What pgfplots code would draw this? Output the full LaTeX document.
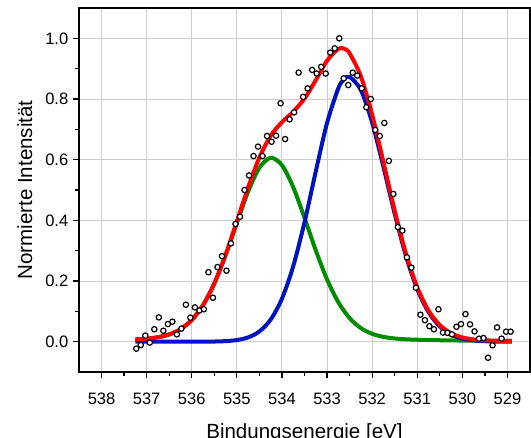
\documentclass[border=0pt]{standalone}
\usepackage{fontspec}
\setmainfont{Liberation Sans}
\usepackage{pgfplots}
\pgfplotsset{compat=1.18}

\definecolor{fitred}{RGB}{255,0,0}
\definecolor{fitgreen}{RGB}{0,140,0}
\definecolor{fitblue}{RGB}{0,20,190}
\definecolor{gridgray}{RGB}{205,205,205}

\begin{document}
\begin{tikzpicture}
\begin{axis}[
  at={(0,0)}, anchor=south west,
  scale only axis, width=338.25pt, height=273pt,
  x dir=reverse,
  xmin=528.5, xmax=538.5, ymin=-0.1, ymax=1.1,
  xtick={529,530,...,538}, minor x tick num=1,
  ytick={0,0.2,...,1.0}, minor y tick num=1,
  xtick pos=bottom, ytick pos=left,
  tick align=outside,
  major tick length=4.5pt, minor tick length=3pt,
  every tick/.style={black, line width=0.9pt},
  axis line style={black, line width=1.2pt},
  grid=major,
  major grid style={gridgray, line width=0.75pt},
  /pgf/number format/assume math mode=true,
  ticklabel style={font=\fontsize{12.4}{14}\selectfont},
  yticklabel style={/pgf/number format/fixed, /pgf/number format/fixed zerofill, /pgf/number format/precision=1},
  xticklabel style={/pgf/number format/1000 sep={}, yshift=-7.5pt},
  label style={font=\fontsize{15.4}{18}\selectfont},
  xlabel={Bindungsenergie [eV]},
  ylabel={Normierte Intensität},
  xlabel style={at={(axis description cs:0.5,-0.1813)}, anchor=base},
  ylabel style={at={(axis description cs:-0.104,0.5)}, anchor=base},
]
% green component
\addplot[fitgreen, line width=3pt, smooth] coordinates {
(537.25,0.0076)(537.0,0.0100)(536.75,0.0147)(536.5,0.0238)(536.25,0.0410)
(536.0,0.0713)(535.75,0.1202)(535.5,0.1915)(535.25,0.2845)(535.0,0.3909)
(534.75,0.4945)(534.5,0.5733)(534.25,0.6060)(534.0,0.5819)(533.75,0.5094)
(533.5,0.4082)(533.25,0.3010)(533.0,0.2051)(532.75,0.1300)(532.5,0.0777)
(532.25,0.0448)(532.0,0.0259)(531.75,0.0158)(531.5,0.0106)(531.25,0.0078)
(531.0,0.0063)(530.75,0.0053)(530.5,0.0047)(530.25,0.0041)(530.0,0.0037)
(529.75,0.0033)(529.5,0.0030)(529.25,0.0027)(529.0,0.0024)(528.9,0.0023)};
% blue component
\addplot[fitblue, line width=3pt, smooth] coordinates {
(537.25,0.0000)(537.0,0.0000)(536.75,0.0000)(536.5,0.0000)(536.25,0.0000)
(536.0,0.0000)(535.75,0.0002)(535.5,0.0005)(535.25,0.0018)(535.0,0.0053)
(534.75,0.0141)(534.5,0.0337)(534.25,0.0728)(534.0,0.1417)(533.75,0.2487)
(533.5,0.3934)(533.25,0.5610)(533.0,0.7211)(532.75,0.8355)(532.625,0.8650)
(532.5,0.8730)(532.25,0.8296)(532.0,0.7225)(531.75,0.5764)(531.5,0.4215)
(531.25,0.2823)(531.0,0.1732)(530.75,0.0974)(530.5,0.0502)(530.25,0.0237)
(530.0,0.0102)(529.75,0.0041)(529.5,0.0015)(529.25,0.0005)(529.0,0.0002)(528.9,0.0001)};
% total fit
\addplot[fitred, line width=3pt, smooth] coordinates {
(537.25,0.0076)(537.0,0.0100)(536.75,0.0147)(536.5,0.0238)(536.25,0.0410)
(536.0,0.0713)(535.75,0.1204)(535.5,0.1920)(535.25,0.2863)(535.0,0.3962)
(534.75,0.5086)(534.5,0.6070)(534.25,0.6788)(534.0,0.7236)(533.75,0.7581)
(533.5,0.8016)(533.25,0.8620)(533.0,0.9262)(532.75,0.9655)(532.625,0.9660)
(532.5,0.9507)(532.25,0.8744)(532.0,0.7484)(531.75,0.5922)(531.5,0.4321)
(531.25,0.2901)(531.0,0.1795)(530.75,0.1027)(530.5,0.0549)(530.25,0.0278)
(530.0,0.0139)(529.75,0.0074)(529.5,0.0045)(529.25,0.0032)(529.0,0.0026)(528.9,0.0024)};
% measured data
\addplot[only marks, mark=*, mark size=2pt,
  mark options={draw=black, fill=white, line width=0.9pt}] coordinates {
(537.23,-0.023)(537.13,-0.011)(537.03,0.020)(536.93,-0.003)(536.83,0.041)
(536.73,0.080)(536.63,0.036)(536.53,0.058)(536.43,0.066)(536.33,0.024)
(536.23,0.043)(536.13,0.122)(536.03,0.079)(535.93,0.113)(535.83,0.103)
(535.73,0.107)(535.63,0.229)(535.53,0.145)(535.43,0.246)(535.33,0.282)
(535.23,0.234)(535.13,0.324)(535.03,0.388)(534.93,0.412)(534.83,0.500)
(534.73,0.548)(534.63,0.612)(534.53,0.643)(534.43,0.612)(534.33,0.678)
(534.23,0.659)(534.13,0.679)(534.03,0.786)(533.93,0.668)(533.83,0.733)
(533.73,0.756)(533.63,0.887)(533.53,0.807)(533.43,0.835)(533.33,0.896)
(533.23,0.884)(533.13,0.906)(533.03,0.884)(532.93,0.953)(532.83,0.967)
(532.73,1.000)(532.63,0.868)(532.53,0.846)(532.43,0.887)(532.33,0.877)
(532.23,0.835)(532.13,0.773)(532.03,0.800)(531.93,0.698)(531.83,0.678)
(531.73,0.721)(531.63,0.596)(531.53,0.487)(531.43,0.378)(531.33,0.366)
(531.23,0.278)(531.13,0.244)(531.03,0.178)(530.93,0.089)(530.83,0.071)
(530.73,0.051)(530.63,0.041)(530.53,0.107)(530.43,0.030)(530.33,0.029)
(530.23,0.024)(530.13,0.049)(530.03,0.058)(529.93,0.091)(529.83,0.057)
(529.73,0.034)(529.63,0.010)(529.53,0.012)(529.43,-0.053)(529.33,-0.012)
(529.23,0.047)(529.13,0.010)(529.03,0.033)(528.93,0.033)};
\end{axis}
\pgfresetboundingbox
\path[use as bounding box] (-59.25pt,-48.75pt) rectangle (339pt,279pt);
\end{tikzpicture}
\end{document}
